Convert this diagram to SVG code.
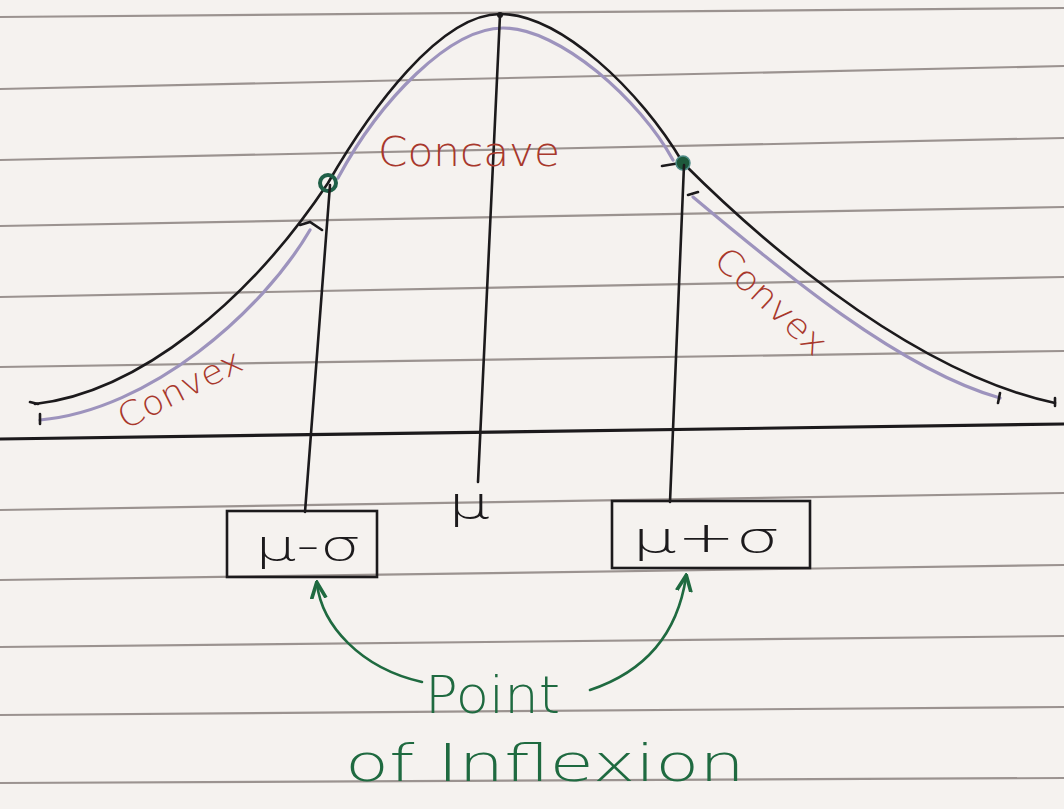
<svg xmlns="http://www.w3.org/2000/svg" width="1064" height="809" viewBox="0 0 1064 809">
<style>
.rule{stroke:#9b9390;stroke-width:2.2;fill:none}
.ink{stroke:#1c1a1c;stroke-width:2.6;fill:none;stroke-linecap:round}
.lav{stroke:#9d93bd;stroke-width:3.2;fill:none;stroke-linecap:round}
.grn{stroke:#1f6a40;stroke-width:2.6;fill:none;stroke-linecap:round}
.red{fill:#a8382c;font-family:"DejaVu Sans",sans-serif;font-weight:300}
.lbl{fill:#1c1a1c;font-family:"DejaVu Sans",sans-serif;font-weight:300}
.gtx{fill:#1f6a40;font-family:"DejaVu Sans",sans-serif;font-weight:300}
.box{fill:none;stroke:#1c1a1c;stroke-width:2.6}
</style>
<defs>
<marker id="ah" viewBox="0 0 10 10" refX="8" refY="5" markerWidth="7" markerHeight="7" orient="auto-start-reverse">
<path d="M0,1 L9,5 L0,9" fill="none" stroke="#1f6a40" stroke-width="2"/>
</marker>
</defs>
<rect width="1064" height="809" fill="#f5f2ef"/>
<g id="paper">
<line class="rule" x1="0" y1="17" x2="1064" y2="8"/>
<line class="rule" x1="0" y1="89" x2="1064" y2="66"/>
<line class="rule" x1="0" y1="160" x2="1064" y2="138"/>
<line class="rule" x1="0" y1="226" x2="1064" y2="207"/>
<line class="rule" x1="0" y1="297" x2="1064" y2="277"/>
<line class="rule" x1="0" y1="367" x2="1064" y2="351"/>
<line class="rule" x1="0" y1="510" x2="1064" y2="493"/>
<line class="rule" x1="0" y1="580" x2="1064" y2="565"/>
<line class="rule" x1="0" y1="647" x2="1064" y2="636"/>
<line class="rule" x1="0" y1="715" x2="1064" y2="707"/>
<line class="rule" x1="0" y1="783" x2="1064" y2="778"/>
</g>
<g id="axis">
<line x1="0" y1="439" x2="1064" y2="424" stroke="#1c1a1c" stroke-width="3.2"/>
</g>
<g id="curve">
<path class="ink" d="M35,404 C140,392 250,300 328,183 C370,110 440,14 500,14 C560,14 640,90 683,163 C740,220 900,370 1055,403"/>
<path class="ink" d="M30,402 L38,404 M1055,398 L1055,406"/>
<path class="lav" d="M40,420 C150,410 262,312 310,230"/>
<path class="lav" d="M338,178 C380,100 450,28 503,28 C560,28 640,100 673,160"/>
<path class="lav" d="M693,197 C780,270 900,370 1000,398"/>
<path class="ink" d="M40,414 L40,424 M300,225 L310,222 L322,230 M688,195 L698,192 M1000,393 L998,403" stroke-width="2"/>
<path class="ink" d="M662,166 L680,163" stroke-width="2"/>
<circle cx="328" cy="183" r="8" fill="none" stroke="#1f5f47" stroke-width="4"/>
<circle cx="683" cy="163" r="7" fill="#1e5a3c" stroke="#4f8c88" stroke-width="1.5"/>
<circle cx="500" cy="15" r="3" fill="#1c1a1c"/>
</g>
<g id="connectors">
<line class="ink" x1="330" y1="185" x2="305" y2="512"/>
<line class="ink" x1="500" y1="15" x2="478" y2="482"/>
<line class="ink" x1="684" y1="165" x2="670" y2="502"/>
<path class="grn" d="M317,584 C322,625 360,668 422,682" marker-start="url(#ah)"/>
<path class="grn" d="M686,577 C678,630 650,670 590,690" marker-start="url(#ah)"/>
</g>
<g id="node-mu-minus-sigma">
<rect class="box" x="227" y="511" width="150" height="66"/>
<text class="lbl" x="255" y="560" font-size="42" textLength="106" lengthAdjust="spacingAndGlyphs">μ-σ</text>
</g>
<g id="node-mu">
<text class="lbl" x="448" y="518" font-size="44" textLength="42" lengthAdjust="spacingAndGlyphs">μ</text>
</g>
<g id="node-mu-plus-sigma">
<rect class="box" x="612" y="501" width="198" height="67"/>
<text class="lbl" x="632" y="552" font-size="42" textLength="148" lengthAdjust="spacingAndGlyphs">μ+σ</text>
</g>
<g id="labels">
<text class="red" x="378" y="166" font-size="40" textLength="182" lengthAdjust="spacingAndGlyphs">Concave</text>
<text class="red" font-size="34" transform="translate(125,430) rotate(-27)" textLength="135" lengthAdjust="spacingAndGlyphs">Convex</text>
<text class="red" font-size="34" transform="translate(712,262) rotate(43)" textLength="140" lengthAdjust="spacingAndGlyphs">Convex</text>
</g>
<g id="node-point-of-inflexion">
<text class="gtx" x="425" y="713" font-size="52" textLength="135" lengthAdjust="spacingAndGlyphs">Point</text>
<text class="gtx" x="345" y="781" font-size="52" textLength="400" lengthAdjust="spacingAndGlyphs">of Inflexion</text>
</g>
</svg>
